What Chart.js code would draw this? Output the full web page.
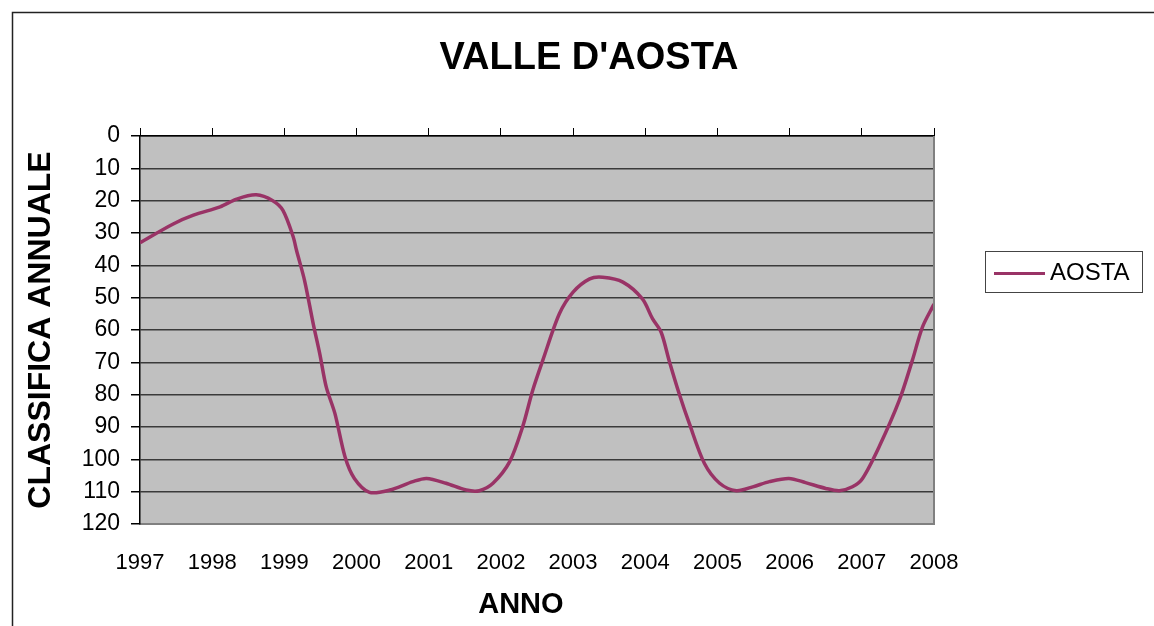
<!DOCTYPE html>
<html>
<head>
<meta charset="utf-8">
<title>VALLE D'AOSTA</title>
<script src="https://cdn.jsdelivr.net/npm/chart.js@4.4.1/dist/chart.umd.min.js"></script>
<style>
    body { margin: 0; background: #fff; }
    #wrap { width: 1154px; height: 626px; }
</style>
</head>
<body>
<div id="wrap"><canvas id="classifica" width="1154" height="626"></canvas></div>
<script>
// data (x = year, y = annual ranking)
const anni = [1997.00, 1997.46, 1997.74, 1998.11, 1998.34, 1998.61, 1998.84, 1998.98, 1999.12, 1999.17,
    1999.28, 1999.40, 1999.49, 1999.58, 1999.70, 1999.84, 1999.97, 2000.18, 2000.46, 2000.78,
    2000.97, 2001.24, 2001.52, 2001.70, 2001.89, 2002.12, 2002.30, 2002.44, 2002.58, 2002.81,
    2003.00, 2003.23, 2003.41, 2003.69, 2003.96, 2004.10, 2004.22, 2004.33, 2004.47, 2004.61,
    2004.82, 2005.03, 2005.26, 2005.49, 2005.72, 2005.99, 2006.22, 2006.50, 2006.69, 2006.87,
    2007.01, 2007.24, 2007.52, 2007.70, 2007.84, 2008.00];
const aosta = [33, 27.2, 24.5, 21.9, 19.5, 18.2, 20, 23, 31, 35.5,
    44.7, 58.1, 67.3, 77.6, 85.8, 99.2, 105.9, 110.2, 109.5, 106.9,
    105.9, 107.4, 109.5, 109.7, 107.4, 100.8, 90, 78.7, 69.4, 55,
    48.3, 44.2, 43.7, 45.2, 50.4, 56.5, 60.7, 69.4, 79.7, 88.9,
    101.3, 107.4, 109.7, 108.5, 106.9, 105.9, 107.2, 109, 109.7, 108.5,
    105.9, 96.1, 81.7, 69.4, 59.1, 52];
const etichetteAnni = ["1997", "1998", "1999", "2000", "2001", "2002", "2003", "2004", "2005", "2006", "2007", "2008"];
const nomeSerie = "AOSTA";

const FONT = "'Liberation Sans', Arial, sans-serif";
const LINE_COLOR = "#993366";

// grey plot background, right border, outer frame and legend box
const excelLook = {
    id: "excelLook",
    beforeDraw(chart) {
        const { ctx, chartArea: a } = chart;
        ctx.save();
        ctx.fillStyle = "#c0c0c0";
        ctx.fillRect(a.left, a.top, a.right - a.left, a.bottom - a.top);
        ctx.strokeStyle = "#222";
        ctx.lineWidth = 1.5;
        ctx.strokeRect(12.5, 12.5, 1200, 700);
        ctx.restore();
    },
    afterDraw(chart) {
        const { ctx, chartArea: a } = chart;
        const ds = chart.data.datasets[0];
        ctx.save();
        ctx.strokeStyle = "#808080";
        ctx.lineWidth = 2;
        ctx.beginPath();
        ctx.moveTo(a.right, a.top);
        ctx.lineTo(a.right, a.bottom);
        ctx.stroke();

        // legend
        ctx.strokeStyle = "#444";
        ctx.lineWidth = 1;
        ctx.strokeRect(985.5, 251.5, 157, 41);
        ctx.strokeStyle = ds.borderColor;
        ctx.lineWidth = 3;
        ctx.beginPath();
        ctx.moveTo(994, 273.5);
        ctx.lineTo(1045, 273.5);
        ctx.stroke();
        ctx.fillStyle = "#000";
        ctx.font = "24px " + FONT;
        ctx.textBaseline = "middle";
        ctx.fillText(ds.label, 1050, 273);
        ctx.restore();
    }
};

new Chart(document.getElementById("classifica"), {
    type: "line",
    data: {
        datasets: [{
            label: nomeSerie,
            data: anni.map((a, i) => ({ x: a, y: aosta[i] })),
            borderColor: LINE_COLOR,
            backgroundColor: LINE_COLOR,
            borderWidth: 3.5,
            pointRadius: 0,
            tension: 0.3,
            fill: false,
        }],
    },
    options: {
        responsive: false,
        animation: false,
        layout: { padding: { left: 24, right: 0, top: 0, bottom: 0 } },
        plugins: {
            legend: { display: false },
            tooltip: { enabled: false },
            title: {
                display: true,
                text: "VALLE D'AOSTA",
                color: "#000",
                font: { family: FONT, size: 38, weight: "bold", lineHeight: "44px" },
                padding: { top: 37, bottom: 0 },
            },
        },
        scales: {
            x: {
                type: "linear",
                position: "bottom",
                min: 1997,
                max: 2008,
                grid: { display: false, drawTicks: false },
                border: { display: true, color: "#808080", width: 2 },
                ticks: {
                    stepSize: 1,
                    padding: 26,
                    color: "#000",
                    font: { family: FONT, size: 22 },
                    callback: (v) => etichetteAnni[v - 1997] ?? "",
                },
                title: {
                    display: true,
                    text: "ANNO    ",
                    color: "#000",
                    font: { family: FONT, size: 29, weight: "bold" },
                    padding: { top: 0, bottom: 4 },
                },
                afterFit: (s) => { s.height = 102; },
            },
            x2: {
                type: "linear",
                position: "top",
                min: 1997,
                max: 2008,
                grid: { drawOnChartArea: false, drawTicks: true, tickLength: 8, color: "#000", lineWidth: 1 },
                border: { display: true, color: "#000", width: 1.5 },
                ticks: { stepSize: 1, display: false },
                afterFit: (s) => { s.height = 55; },
            },
            y: {
                reverse: true,
                min: 0,
                max: 120,
                grid: {
                    color: (c) => (c.tick && c.tick.value === 120 ? "#808080" : "#3a3a3a"),
                    lineWidth: 1.5,
                    tickColor: "#000",
                    tickLength: 9,
                },
                border: { display: true, color: "#000", width: 1.5 },
                ticks: {
                    stepSize: 10,
                    padding: 11,
                    color: "#000",
                    font: { family: FONT, size: 23 },
                },
                title: {
                    display: true,
                    text: "CLASSIFICA ANNUALE",
                    color: "#000",
                    font: { family: FONT, size: 32, weight: "bold", lineHeight: "34px" },
                    padding: { top: 0, bottom: 0 },
                },
                afterFit: (s) => { s.width = 116; },
            },
            // empty right-hand area that holds the legend
            yLegenda: {
                position: "right",
                min: 0,
                max: 120,
                grid: { display: false },
                border: { display: false },
                ticks: { display: false },
                afterFit: (s) => { s.width = 220; },
            },
        },
    },
    plugins: [excelLook],
});
</script>
</body>
</html>
